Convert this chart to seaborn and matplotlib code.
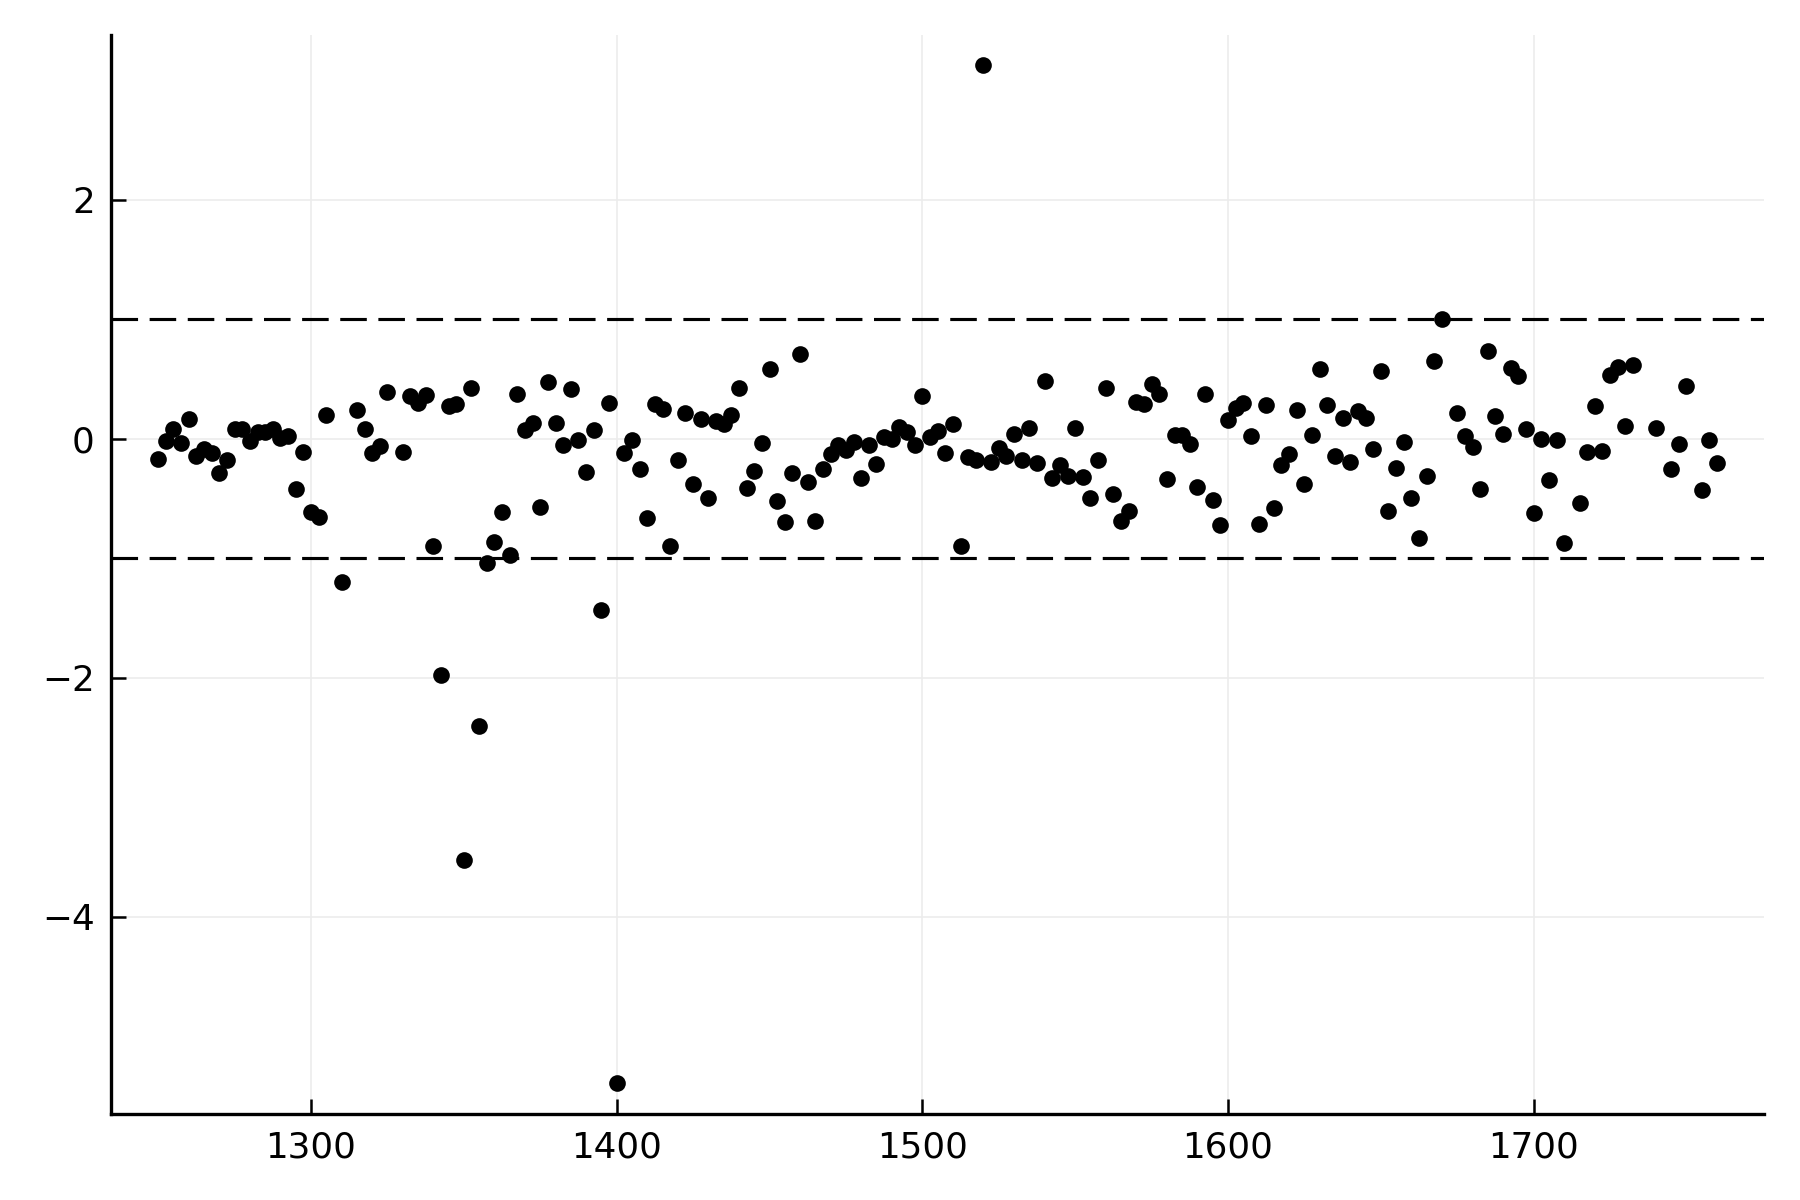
import matplotlib
matplotlib.use("Agg")
import matplotlib.pyplot as plt
import seaborn as sns
import pandas as pd

x_vals = [1250, 1252.5, 1255, 1257.5, 1260, 1262.5, 1265, 1267.5, 1270, 1272.5,
          1275, 1277.5, 1280, 1282.5, 1285, 1287.5, 1290, 1292.5, 1295, 1297.5,
          1300, 1302.5, 1305, 1310, 1315, 1317.5, 1320, 1322.5, 1325, 1330,
          1332.5, 1335, 1337.5, 1340, 1342.5, 1345, 1347.5, 1350, 1352.5, 1355,
          1357.5, 1360, 1362.5, 1365, 1367.5, 1370, 1372.5, 1375, 1377.5, 1380,
          1382.5, 1385, 1387.5, 1390, 1392.5, 1395, 1397.5, 1400, 1402.5, 1405,
          1407.5, 1410, 1412.5, 1415, 1417.5, 1420, 1422.5, 1425, 1427.5, 1430,
          1432.5, 1435, 1437.5, 1440, 1442.5, 1445, 1447.5, 1450, 1452.5, 1455,
          1457.5, 1460, 1462.5, 1465, 1467.5, 1470, 1472.5, 1475, 1477.5, 1480,
          1482.5, 1485, 1487.5, 1490, 1492.5, 1495, 1497.5, 1500, 1502.5, 1505,
          1507.5, 1510, 1512.5, 1515, 1517.5, 1520, 1522.5, 1525, 1527.5, 1530,
          1532.5, 1535, 1537.5, 1540, 1542.5, 1545, 1547.5, 1550, 1552.5, 1555,
          1557.5, 1560, 1562.5, 1565, 1567.5, 1570, 1572.5, 1575, 1577.5, 1580,
          1582.5, 1585, 1587.5, 1590, 1592.5, 1595, 1597.5, 1600, 1602.5, 1605,
          1607.5, 1610, 1612.5, 1615, 1617.5, 1620, 1622.5, 1625, 1627.5, 1630,
          1632.5, 1635, 1637.5, 1640, 1642.5, 1645, 1647.5, 1650, 1652.5, 1655,
          1657.5, 1660, 1662.5, 1665, 1667.5, 1670, 1675, 1677.5, 1680, 1682.5,
          1685, 1687.5, 1690, 1692.5, 1695, 1697.5, 1700, 1702.5, 1705, 1707.5,
          1710, 1715, 1717.5, 1720, 1722.5, 1725, 1727.5, 1730, 1732.5, 1740,
          1745, 1747.5, 1750, 1755, 1757.5, 1760]

y_vals = [-0.166, -0.018, 0.085, -0.032, 0.163, -0.147, -0.088, -0.122, -0.286, -0.175,
          0.082, 0.082, -0.021, 0.057, 0.057, 0.080, 0.007, 0.021, -0.423, -0.108,
          -0.608, -0.658, 0.197, -1.20, 0.244, 0.080, -0.116, -0.057, 0.393, -0.113,
          0.362, 0.300, 0.365, -0.893, -1.98, 0.272, 0.295, -3.52, 0.429, -2.40,
          -1.04, -0.865, -0.613, -0.971, 0.379, 0.071, 0.136, -0.571, 0.474, 0.136,
          -0.054, 0.420, -0.013, -0.278, 0.071, -1.43, 0.300, -5.39, -0.122, -0.013,
          -0.250, -0.661, 0.295, 0.250, -0.898, -0.175, 0.220, -0.381, 0.163, -0.499,
          0.149, 0.120, 0.200, 0.426, -0.412, -0.270, -0.032, 0.588, -0.521, -0.692,
          -0.289, 0.708, -0.365, -0.689, -0.253, -0.130, -0.049, -0.096, -0.027, -0.326,
          -0.049, -0.208, 0.015, -0.004, 0.099, 0.057, -0.049, 0.356, 0.015, 0.063,
          -0.116, 0.127, -0.898, -0.152, -0.180, 3.125, -0.194, -0.077, -0.144, 0.041,
          -0.175, 0.088, -0.206, 0.482, -0.328, -0.222, -0.314, 0.091, -0.320, -0.496,
          -0.175, 0.429, -0.460, -0.684, -0.600, 0.309, 0.295, 0.460, 0.373, -0.334,
          0.035, 0.035, -0.041, -0.404, 0.379, -0.510, -0.717, 0.155, 0.261, 0.297,
          0.024, -0.711, 0.284, -0.577, -0.219, -0.130, 0.244, -0.381, 0.035, 0.588,
          0.286, -0.144, 0.177, -0.197, 0.230, 0.177, -0.085, 0.569, -0.600, -0.242,
          -0.027, -0.493, -0.828, -0.314, 0.652, 0.999, 0.217, 0.027, -0.068, -0.418,
          0.733, 0.189, 0.043, 0.594, 0.527, 0.082, -0.622, 0.001, -0.342, -0.013,
          -0.868, -0.535, -0.110, 0.278, -0.102, 0.532, 0.602, 0.105, 0.616, 0.094,
          -0.253, -0.041, 0.446, -0.432, -0.013, -0.203]

ref_lines = [1.0, -1.0]
x_ticks = [1300, 1400, 1500, 1600, 1700]
y_ticks = [-4, -2, 0, 2]

df = pd.DataFrame({"x": x_vals, "y": y_vals})

sns.set_theme(style="white")
plt.rcParams["font.family"] = ["DejaVu Sans"]

fig = plt.figure(figsize=(6, 4), dpi=300)
ax = fig.add_axes([0.0619, 0.072, 0.918, 0.899])

for v in ref_lines:
    ax.axhline(v, color="black", lw=0.75, linestyle=(0, (8.5, 3.7)), zorder=2)

sns.scatterplot(data=df, x="x", y="y", ax=ax, color="black", s=16,
                linewidth=0, legend=False, zorder=3)

xr = max(x_vals) - min(x_vals)
yr = max(y_vals) - min(y_vals)
ax.set_xlim(min(x_vals) - 0.03 * xr, max(x_vals) + 0.03 * xr)
ax.set_ylim(min(y_vals) - 0.03 * yr, max(y_vals) + 0.03 * yr)

ax.set_xticks(x_ticks)
ax.set_yticks(y_ticks)
ax.set_yticklabels(["\u22124", "\u22122", "0", "2"])
ax.set_xlabel("")
ax.set_ylabel("")

ax.grid(True, color="#ececec", linewidth=0.4)
ax.set_axisbelow(True)
for s in ["top", "right"]:
    ax.spines[s].set_visible(False)
for s in ["left", "bottom"]:
    ax.spines[s].set_color("black")
    ax.spines[s].set_linewidth(0.8)
ax.tick_params(axis="both", direction="in", length=3.5, width=0.6,
               colors="black", labelsize=8.6, pad=4,
               left=True, bottom=True)

fig.savefig("out.png", dpi=300, facecolor="white")
